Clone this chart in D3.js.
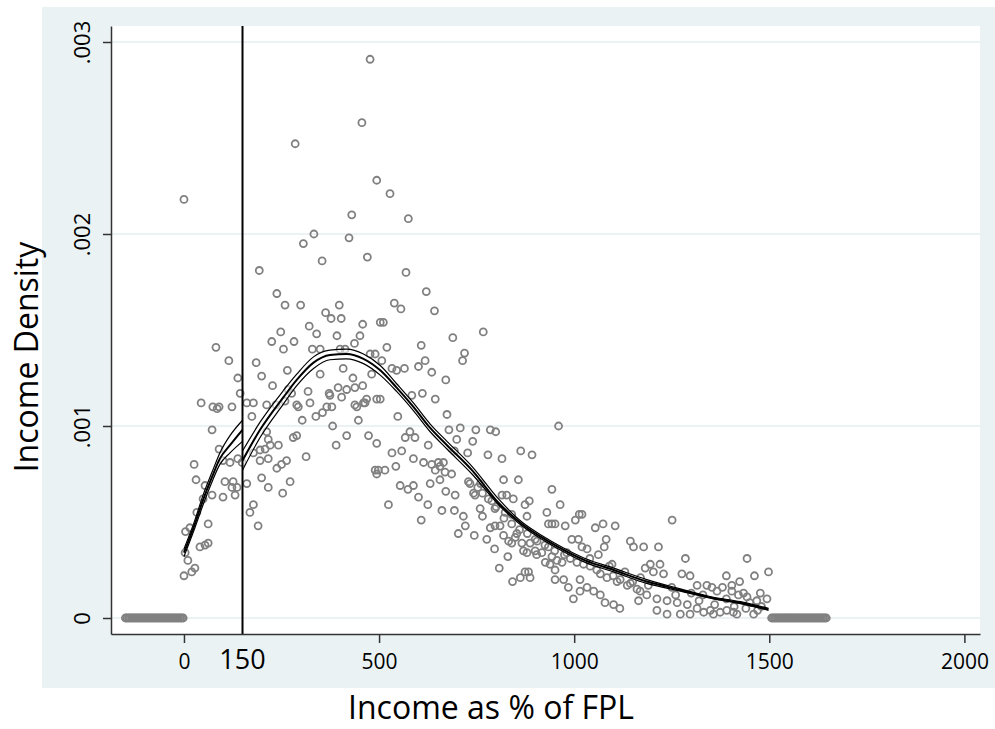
<!DOCTYPE html>
<html>
<head>
<meta charset="utf-8">
<script src="https://cdn.jsdelivr.net/npm/d3@7"></script>
<style>
  html, body { margin: 0; padding: 0; background: #ffffff; }
  svg { display: block; }
  text { font-family: "Open Sans", "Noto Sans", sans-serif; fill: #000; }
</style>
</head>
<body>
<svg id="chart" width="995" height="729"></svg>
<script>
// Axis ticks and labels
const xTickValues = [0, 500, 1000, 1500, 2000];
const yTickValues = [0, 0.001, 0.002, 0.003];
const yTickLabels = ["0", ".001", ".002", ".003"];
const cutoff = 150;
const xTitle = "Income as % of FPL";
const yTitle = "Income Density";

// Binned density estimates: [income % of FPL, density]
const densityPoints = [
  [0,.00218],[0,.00022],[3,.00034],[10,.00030],[28,.00026],[20,.00024],[4,.00045],[15,.00047],[41,.00037],[54,.00038],
  [62,.00039],[62,.00049],[33,.00055],[49,.00062],[72,.00064],[100,.00063],[131,.00064],[31,.00072],[54,.00069],[105,.00071],
  [126,.00071],[123,.00068],[136,.00068],[26,.00080],[90,.00088],[100,.00082],[118,.00081],[138,.00083],[149,.00081],[72,.00098],
  [44,.00112],[74,.00110],[90,.00110],[85,.00109],[123,.00110],[82,.00141],[115,.00134],[138,.00125],[144,.00117],
  [161,.00112],[178,.00112],[174,.00105],[212,.00111],[236,.00111],[259,.00113],[289,.00111],[193,.00181],[238,.00169],[259,.00163],
  [299,.00163],[248,.00149],[225,.00144],[255,.00140],[282,.00144],[185,.00133],[265,.00129],[199,.00126],[227,.00121],[178,.00086],
  [195,.000875],[208,.00088],[221,.00090],[242,.00090],[195,.00082],[216,.00083],[238,.00078],[250,.00080],[263,.00082],[199,.00073],
  [216,.00068],[161,.00070],[272,.00071],[253,.00065],[178,.00059],[169,.00055],[190,.00048],[212,.00097],[216,.00093],[280,.00094],
  [289,.00095],[276,.00117],[267,.00119],[293,.00110],[285,.00247],
  [306,.00195],[333,.00200],[354,.00186],[423,.00198],[430,.00210],[470,.00188],[456,.00258],[398,.00163],[363,.00159],[377,.00156],
  [403,.00156],[321,.00152],[340,.00148],[392,.00147],[458,.00153],[451,.00147],[437,.00143],[329,.00140],[349,.00140],[400,.00140],
  [413,.00140],[477,.001375],[490,.001375],[408,.00130],[433,.00125],[481,.00127],[349,.00127],[372,.00117],[395,.00120],[417,.00119],
  [438,.00120],[458,.00121],[318,.00118],[374,.00116],[468,.00114],[464,.00112],[503,.00114],[323,.00112],[366,.00110],[379,.00110],
  [443,.00110],[338,.00105],[381,.00100],[447,.00103],[417,.00095],[473,.00095],[494,.00091],[390,.00090],[404,.00115],[438,.00111],
  [460,.00112],[494,.00114],[313,.00084],[355,.00107],[494,.00075],[490,.00077],[503,.00154],[494,.00228],[477,.00291],[303,.00103],
  [528,.00221],[575,.00208],[569,.00180],[621,.00170],[539,.00164],[556,.00161],[642,.00160],[511,.00154],[689,.00146],[767,.00149],
  [719,.00138],[714,.00134],[520,.00141],[608,.00142],[507,.00134],[533,.00130],[545,.00129],[565,.00130],[618,.00134],[601,.00131],
  [635,.00128],[671,.00124],[548,.00105],[584,.00116],[611,.00117],[644,.00114],[674,.00106],[708,.00099],[748,.00098],[785,.00098],
  [799,.00097],[679,.00098],[699,.00093],[740,.00092],[579,.00097],[567,.00094],[592,.00094],[626,.00090],[533,.00086],[558,.00087],
  [588,.00083],[614,.00081],[635,.00080],[652,.00081],[665,.00081],[656,.00079],[644,.00077],[498,.00077],[515,.00077],[543,.00079],
  [693,.00087],[727,.00086],[779,.00085],[815,.00083],[669,.00076],[686,.00075],[631,.00070],[656,.00072],[554,.00069],[574,.00067],
  [588,.00069],[671,.00066],[695,.00064],[729,.00071],[742,.00065],[753,.00068],[765,.00065],[601,.00063],[625,.00059],[524,.00059],
  [608,.00051],[661,.00056],[693,.00056],[716,.00053],[721,.00048],[703,.00044],[744,.00043],[733,.00070],[746,.00064],
  [759,.00057],[765,.00053],[789,.00061],[797,.00057],[815,.00064],[827,.00064],[844,.00062],[874,.00059],[885,.00061],[943,.00067],
  [964,.00059],[930,.00055],[823,.00055],[840,.00054],[879,.00053],[934,.00049],[943,.00049],[951,.00049],[797,.00048],[810,.00048],
  [776,.00041],[796,.00036],[785,.00047],[832,.00040],[849,.00042],[866,.00039],[870,.00035],[887,.00039],[900,.00035],[917,.00034],
  [934,.00037],[943,.00032],[956,.00030],[969,.00029],[981,.00034],[977,.00048],[1003,.00051],[1013,.00054],[994,.00041],[1011,.00041],
  [1020,.00037],[1007,.00029],[830,.00032],[808,.00026],[842,.00019],[862,.00021],[883,.00024],[887,.00021],[951,.00020],[973,.00020],
  [985,.00016],[998,.00010],[1015,.00014],[960,.00100],[863,.00087],[892,.00085],[819,.00072],[857,.00072],[874,.00024],[853,.00044],
  [879,.00034],[819,.00043],[840,.00039],[904,.00033],[926,.00029],[938,.00028],[951,.00025],
  [760,.00070],[780,.00062],[800,.00058],[820,.00052],[840,.00049],[860,.00046],[880,.00044],[900,.00041],
  [905,.00040],[925,.00038],[950,.00035],[975,.00033],[990,.00031],
  [1020,.00054],[1054,.00047],[1074,.00049],[1105,.00048],[1251,.00051],[1082,.00041],[1077,.00037],[1144,.00040],[1152,.00037],[1178,.00037],
  [1216,.00037],[1285,.00031],[1443,.00031],[1498,.00024],[1462,.00022],[1390,.00022],[1424,.00019],[1404,.00017],[1477,.00013],[1494,.00010],
  [1033,.00036],[1062,.00033],[1097,.00028],[1195,.00028],[1220,.00028],[1182,.00026],[1203,.00024],[1229,.00023],[1276,.00023],[1297,.00022],
  [1315,.00017],[1340,.00017],[1353,.00016],[1366,.00014],[1404,.00014],[1421,.00012],[1443,.00011],[1468,.00009],[1079,.00008],[1101,.00007],
  [1117,.00005],[1165,.00009],[1212,.00004],[1238,.00002],[1272,.00002],[1297,.00002],[1332,.00003],[1357,.00002],[1391,.00004],[1417,.00002],
  [1460,.00002],[1118,.00020],[1144,.00018],[1169,.00014],[1186,.00012],[1212,.00010],[1238,.00009],[1264,.00008],[1290,.00007],[1315,.00005],
  [1349,.00004],[1374,.00003],[1024,.00028],[1041,.00027],[1058,.00025],[1067,.00023],[1084,.00021],[1110,.00019],[1136,.00017],[1161,.00015],
  [1033,.00016],[1050,.00014],[1067,.00012],[1015,.00020],[1380,.00016],[1434,.00013],[1408,.00003],
  [1040,.00031],[1090,.00027],[1130,.00024],[1170,.00021],[1100,.00022],[1150,.00019],[1190,.00017],
  [1250,.00016],[1300,.00013],[1330,.00012],[1390,.00010],[1450,.00008],[1480,.00006],[1260,.00012],[1320,.00009],[1360,.00007],[1410,.00006],
  [1440,.00005],[1470,.00004]
];

// Bins outside the support, where the estimated density is zero
const zeroDensityX = [
  -150,-146,-142,-138,-134,-130,-126,-122,-118,-114,-110,-106,-102,-98,-94,-90,-86,-82,-78,-74,
  -70,-66,-62,-58,-54,-50,-46,-42,-38,-34,-30,-26,-22,-18,-14,-10,-6,-2,
  1506,1510,1514,1518,1522,1526,1530,1534,1538,1542,1546,1550,1554,1558,1562,1566,1570,1574,1578,1582,
  1586,1590,1594,1598,1602,1606,1610,1614,1618,1622,1626,1630,1634,1638,1642,1646
];

// Local polynomial fit with confidence bounds, below the 150% cutoff
const leftX   = [0, 28, 49, 72, 92, 118, 150];
const leftFit = [.00034, .00049, .000615, .000735, .00083, .00090, .00098];
const leftLo  = [.00032, .00047, .00059, .00071, .00080, .00086, .00092];
const leftHi  = [.00036, .00051, .00064, .00076, .00086, .00095, .00103];

// Local polynomial fit with confidence bounds, above the cutoff
const rightX   = [150, 195, 255, 289, 332, 374, 417, 460, 503, 545, 588, 631, 674, 738, 806, 866, 917, 968, 1028, 1101, 1186, 1272, 1357, 1426, 1498];
const rightFit = [.00082, .00098, .00115, .00124, .00133, .00137, .001375, .00135, .00129, .00120, .00110, .00099, .00090, .00077, .00060, .00049, .00042, .00036, .00030, .00025, .00019, .000146, .000103, .00008, .000045];
const rightLo  = [.00077, .00094, .001115, .00121, .00130, .001345, .00135, .001325, .001265, .00118, .00108, .00097, .00088, .00075, .00059, .00048, .00041, .00035, .00029, .00024, .00018, .00014, .00010, .000075, .00004];
const rightHi  = [.00087, .00102, .001185, .00127, .00136, .001395, .00140, .001375, .001315, .00122, .00112, .00101, .00092, .00079, .00062, .00050, .00043, .00037, .00031, .00026, .00020, .000152, .000108, .000085, .00005];

// ---- layout ----
const svg = d3.select("#chart");
const outer = { x0: 42, y0: 7, x1: 995, y1: 688 };
const plot = { left: 111, right: 980, top: 26, bottom: 634 };

const x = d3.scaleLinear().domain([-187, 2040]).range([plot.left, plot.right]);
const y = d3.scaleLinear().domain([-0.0000833, 0.0030833]).range([plot.bottom, plot.top]);

const bgColor = "#eaf2f3";
const markColor = "#808080";
const axisColor = "#333333";

svg.append("rect")
  .attr("x", outer.x0).attr("y", outer.y0)
  .attr("width", outer.x1 - outer.x0).attr("height", outer.y1 - outer.y0)
  .attr("fill", bgColor);

svg.append("rect")
  .attr("x", plot.left).attr("y", plot.top)
  .attr("width", plot.right - plot.left).attr("height", plot.bottom - plot.top)
  .attr("fill", "#ffffff");

// horizontal grid
svg.append("g").selectAll("line")
  .data(yTickValues)
  .join("line")
  .attr("x1", plot.left).attr("x2", plot.right)
  .attr("y1", d => y(d)).attr("y2", d => y(d))
  .attr("stroke", bgColor).attr("stroke-width", 2);

// scatter of binned densities (hollow circles)
const marks = svg.append("g")
  .attr("fill", "none")
  .attr("stroke", markColor)
  .attr("stroke-width", 1.8);

marks.selectAll("circle.zero")
  .data(zeroDensityX)
  .join("circle")
  .attr("class", "zero")
  .attr("cx", d => x(d)).attr("cy", y(0)).attr("r", 3.5);

marks.selectAll("circle.pt")
  .data(densityPoints)
  .join("circle")
  .attr("class", "pt")
  .attr("cx", d => x(d[0])).attr("cy", d => y(d[1])).attr("r", 3.5);

// fitted curves with confidence bounds
function drawFit(xs, fit, lo, hi) {
  const rows = xs.map((v, i) => ({ x: v, fit: fit[i], lo: lo[i], hi: hi[i] }));
  const curve = d3.curveMonotoneX;
  const g = svg.append("g");
  g.append("path")
    .datum(rows)
    .attr("d", d3.area().x(d => x(d.x)).y0(d => y(d.lo)).y1(d => y(d.hi)).curve(curve))
    .attr("fill", "#ffffff").attr("fill-opacity", 0.55);
  for (const key of ["lo", "hi"]) {
    g.append("path")
      .datum(rows)
      .attr("d", d3.line().x(d => x(d.x)).y(d => y(d[key])).curve(curve))
      .attr("fill", "none").attr("stroke", "#000").attr("stroke-width", 1.2);
  }
  g.append("path")
    .datum(rows)
    .attr("d", d3.line().x(d => x(d.x)).y(d => y(d.fit)).curve(curve))
    .attr("fill", "none").attr("stroke", "#000").attr("stroke-width", 2);
}
drawFit(leftX, leftFit, leftLo, leftHi);
drawFit(rightX, rightFit, rightLo, rightHi);

// cutoff line
svg.append("line")
  .attr("x1", x(cutoff)).attr("x2", x(cutoff))
  .attr("y1", plot.top).attr("y2", plot.bottom)
  .attr("stroke", "#000").attr("stroke-width", 2);

// axes
const xAxis = svg.append("g")
  .attr("transform", `translate(0,${plot.bottom})`)
  .call(d3.axisBottom(x).tickValues(xTickValues).tickSize(9).tickSizeOuter(0).tickPadding(11).tickFormat(d3.format("d")));
xAxis.select(".domain").attr("stroke", axisColor).attr("stroke-width", 1.5);
xAxis.selectAll(".tick line").attr("stroke", axisColor).attr("stroke-width", 1.5);
xAxis.selectAll(".tick text")
  .attr("font-size", 21).attr("font-family", "'Open Sans', sans-serif").attr("fill", "#000");

// label for the cutoff on the x axis
svg.append("text")
  .attr("x", x(cutoff)).attr("y", 669)
  .attr("text-anchor", "middle")
  .attr("font-size", 27)
  .text(String(cutoff));

const yAxis = svg.append("g")
  .attr("transform", `translate(${plot.left},0)`)
  .call(d3.axisLeft(y).tickValues(yTickValues).tickSize(8).tickSizeOuter(0).tickFormat((d, i) => yTickLabels[i]));
yAxis.select(".domain").attr("stroke", axisColor).attr("stroke-width", 1.5);
yAxis.selectAll(".tick line").attr("stroke", axisColor).attr("stroke-width", 1.5);
yAxis.selectAll(".tick text")
  .attr("x", null).attr("dy", null)
  .attr("transform", "translate(-21,0) rotate(-90)")
  .attr("text-anchor", "middle")
  .attr("font-size", 22).attr("font-family", "'Open Sans', sans-serif").attr("fill", "#000");

// axis titles
svg.append("text")
  .attr("x", 491).attr("y", 719)
  .attr("text-anchor", "middle")
  .attr("font-size", 32)
  .text(xTitle);

svg.append("text")
  .attr("transform", "translate(38,357) rotate(-90)")
  .attr("text-anchor", "middle")
  .attr("font-size", 32)
  .text(yTitle);
</script>
</body>
</html>
